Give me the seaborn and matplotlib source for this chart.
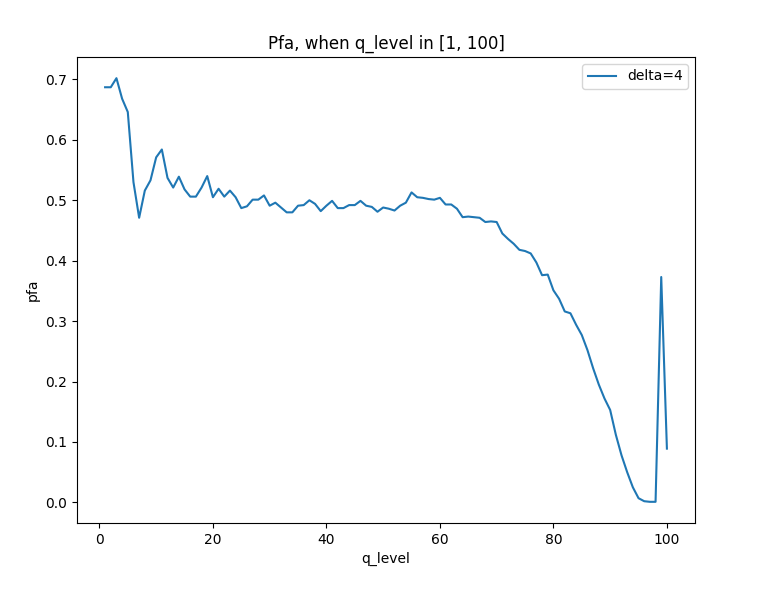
import numpy as np
import pandas as pd
import matplotlib
matplotlib.use("Agg")
import matplotlib.pyplot as plt
import seaborn as sns

q_level = list(range(1, 101))
pfa = [0.687, 0.687, 0.702, 0.668, 0.646, 0.530, 0.471, 0.516, 0.533, 0.571,
       0.584, 0.537, 0.521, 0.539, 0.518, 0.506, 0.506, 0.521, 0.540, 0.505,
       0.519, 0.506, 0.516, 0.505, 0.487, 0.490, 0.501, 0.501, 0.508, 0.491,
       0.496, 0.488, 0.480, 0.480, 0.491, 0.492, 0.500, 0.494, 0.482, 0.491,
       0.499, 0.487, 0.487, 0.492, 0.492, 0.499, 0.491, 0.489, 0.481, 0.488,
       0.486, 0.483, 0.491, 0.496, 0.513, 0.505, 0.504, 0.502, 0.501, 0.504,
       0.493, 0.493, 0.486, 0.472, 0.473, 0.472, 0.471, 0.464, 0.465, 0.464,
       0.445, 0.436, 0.428, 0.418, 0.416, 0.412, 0.397, 0.376, 0.377, 0.351,
       0.337, 0.316, 0.313, 0.294, 0.277, 0.252, 0.222, 0.195, 0.172, 0.153,
       0.112, 0.078, 0.050, 0.025, 0.007, 0.002, 0.001, 0.001, 0.373, 0.089]

df = pd.DataFrame({"q_level": q_level, "pfa": pfa})

fig = plt.figure(figsize=(7.59, 5.9), dpi=100)
ax = fig.add_axes([77/759, 1 - 523/590, (695 - 77)/759, (523 - 57)/590])
sns.lineplot(data=df, x="q_level", y="pfa", label="delta=4", ax=ax)
ax.set_title("Pfa, when q_level in [1, 100]")
ax.legend(loc="upper right")
fig.savefig("out.png", dpi=100)
